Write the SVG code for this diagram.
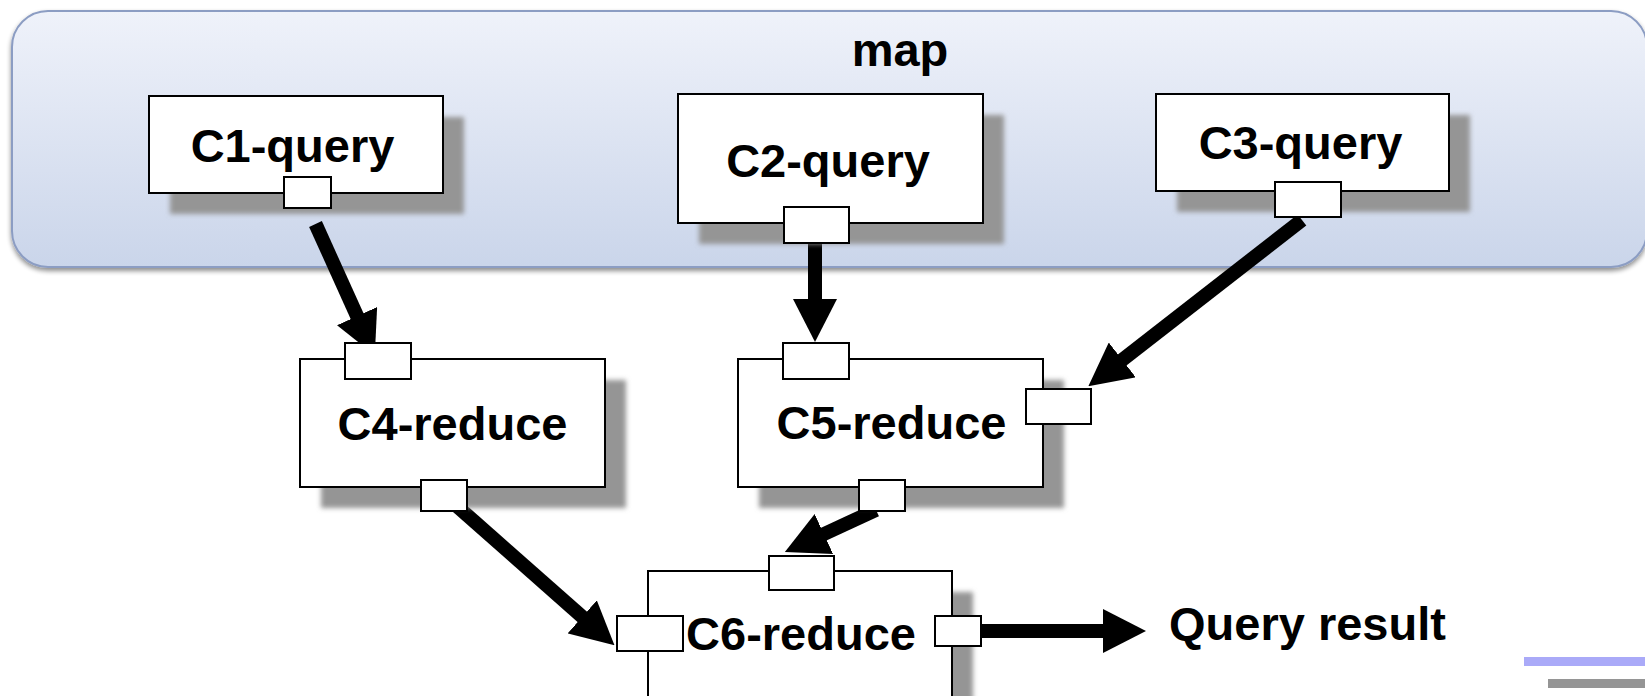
<svg xmlns="http://www.w3.org/2000/svg" width="1645" height="696" viewBox="0 0 1645 696">
<style>
.box{fill:#fff;stroke:#000;stroke-width:2}
.port{fill:#fff;stroke:#000;stroke-width:2}
.shadow{fill:#959595;filter:url(#blur)}
.lbl{font-family:"Liberation Sans",Arial,Helvetica,sans-serif;font-weight:bold;font-size:47px;text-anchor:middle;fill:#000}
.conn{stroke:#000;stroke-width:14;fill:none;marker-end:url(#ah)}
</style>
<defs>
<linearGradient id="mapg" x1="0" y1="0" x2="0" y2="1">
<stop offset="0" stop-color="#eff2fa"/>
<stop offset="1" stop-color="#cad5ea"/>
</linearGradient>
<filter id="blur" x="-10%" y="-10%" width="120%" height="130%">
<feGaussianBlur stdDeviation="2.5"/>
</filter>
<filter id="mapshadow" x="-5%" y="-10%" width="110%" height="130%">
<feGaussianBlur in="SourceAlpha" stdDeviation="2.5"/>
<feOffset dx="0" dy="3" result="b"/>
<feComponentTransfer><feFuncA type="linear" slope="0.45"/></feComponentTransfer>
<feMerge><feMergeNode/><feMergeNode in="SourceGraphic"/></feMerge>
</filter>
<marker id="ah" markerUnits="userSpaceOnUse" markerWidth="43" markerHeight="44" viewBox="0 0 43 44" refX="1" refY="22" orient="auto">
<path d="M0,0 L43,22 L0,44 z" fill="#000"/>
</marker>
</defs>
<rect width="1645" height="696" fill="#fff"/>
<g id="map">
<rect x="12" y="11" width="1635" height="256" rx="36" ry="36" fill="url(#mapg)" stroke="#8c9dc3" stroke-width="2" filter="url(#mapshadow)"/>
<text class="lbl" x="900" y="66">map</text>
</g>
<g id="connectors">
<line class="conn" x1="315.5" y1="224" x2="357.5" y2="317"/>
<line class="conn" x1="815" y1="238" x2="815" y2="300"/>
<line class="conn" x1="1302" y1="220" x2="1121.5" y2="360.5"/>
<line class="conn" x1="450" y1="500" x2="583" y2="617.5"/>
<line class="conn" x1="876" y1="510" x2="823" y2="534.5"/>
<line class="conn" x1="981" y1="631" x2="1104" y2="631"/>
</g>
<g id="c1">
<rect class="shadow" x="170" y="117" width="294" height="97"/>
<rect class="box" x="149" y="96" width="294" height="97"/>
<text class="lbl" x="292.5" y="162">C1-query</text>
<rect class="port" x="284" y="177" width="47" height="31"/>
</g>
<g id="c2">
<rect class="shadow" x="699" y="115" width="305" height="129"/>
<rect class="box" x="678" y="94" width="305" height="129"/>
<text class="lbl" x="828" y="177">C2-query</text>
<rect class="port" x="784" y="207" width="65" height="36"/>
</g>
<g id="c3">
<rect class="shadow" x="1177" y="115" width="293" height="97"/>
<rect class="box" x="1156" y="94" width="293" height="97"/>
<text class="lbl" x="1300.5" y="159">C3-query</text>
<rect class="port" x="1275" y="182" width="66" height="35"/>
</g>
<g id="c4">
<rect class="shadow" x="321" y="380" width="305" height="128"/>
<rect class="box" x="300" y="359" width="305" height="128"/>
<text class="lbl" x="452.5" y="440">C4-reduce</text>
<rect class="port" x="345" y="343" width="66" height="36"/>
<rect class="port" x="421" y="480" width="46" height="31"/>
</g>
<g id="c5">
<rect class="shadow" x="759" y="380" width="305" height="128"/>
<rect class="box" x="738" y="359" width="305" height="128"/>
<text class="lbl" x="891.5" y="439">C5-reduce</text>
<rect class="port" x="783" y="343" width="66" height="36"/>
<rect class="port" x="1026" y="389" width="65" height="35"/>
<rect class="port" x="859" y="480" width="46" height="31"/>
</g>
<g id="c6">
<rect class="shadow" x="669" y="592" width="304" height="140"/>
<rect class="box" x="648" y="571" width="304" height="140"/>
<text class="lbl" x="801" y="650">C6-reduce</text>
<rect class="port" x="769" y="556" width="65" height="34"/>
<rect class="port" x="617" y="616" width="66" height="35"/>
<rect class="port" x="935" y="616" width="46" height="30"/>
</g>
<g id="result">
<text class="lbl" x="1307.5" y="640">Query result</text>
</g>
<rect x="1524" y="657" width="121" height="9" fill="#aaaaf8"/>
<rect x="1548" y="679" width="97" height="9" fill="#959595"/>
</svg>
